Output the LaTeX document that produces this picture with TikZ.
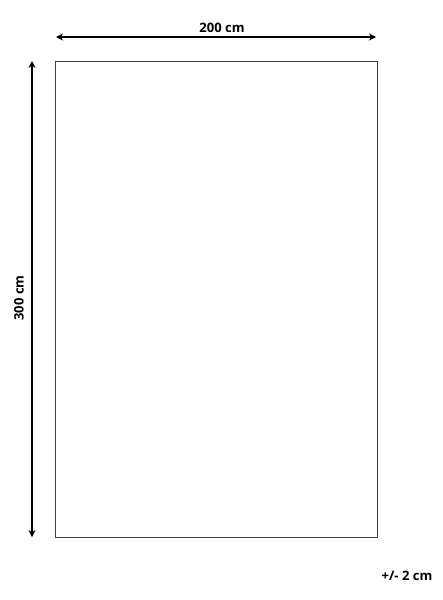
\documentclass[tikz,border=0pt]{standalone}
\usepackage{fontspec}
\setmainfont{Open Sans}
\usetikzlibrary{positioning,arrows.meta}

\begin{document}
\begin{tikzpicture}[x=1pt,y=-1pt,
                    dim line/.style={draw=black,line width=1.8pt,{Stealth[length=7pt,width=7pt]}-{Stealth[length=7pt,width=7pt]}},
                    rug/.style={draw=black!75,line width=0.9pt},
                    dim label/.style={font=\bfseries\fontsize{13}{15}\selectfont,inner sep=1pt}]
  \useasboundingbox (0,0) rectangle (442,600);

  % rug outline
  \coordinate (nw) at (55,61);
  \coordinate (se) at (377,537);
  \draw[rug] (nw) rectangle (se);

  % dimension arrows
  \coordinate (top l) at (56,37);
  \coordinate (top r) at (376,37);
  \coordinate (side t) at (32,61);
  \coordinate (side b) at (32,537);
  \path[dim line] (top l) -- (top r);
  \path[dim line] (side t) -- (side b);

  \node[dim label] (width) at (222,28) {200 cm};
  \node[dim label,rotate=90] (length) at (19,298) {300 cm};
  \node[dim label] (tol) at (407,576) {+/- 2 cm};

\end{tikzpicture}
\end{document}
